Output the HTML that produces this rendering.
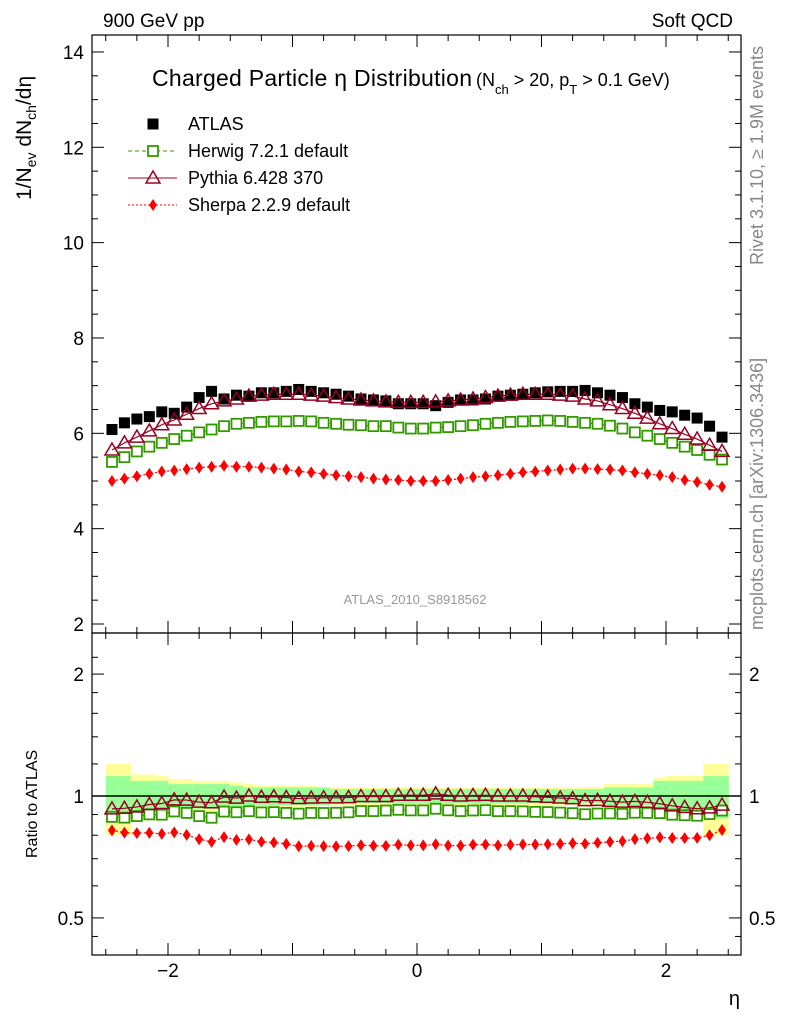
<!DOCTYPE html>
<html><head><meta charset="utf-8"><style>
body{margin:0;background:#fff;width:786px;height:1024px;overflow:hidden}
svg{font-family:"Liberation Sans",sans-serif}
</style></head><body>
<svg id="c" width="786" height="1024" viewBox="0 0 786 1024">
<text x="103" y="27" font-size="19">900 GeV pp</text>
<text x="733" y="27" font-size="19" text-anchor="end">Soft QCD</text>
<text x="152" y="86" font-size="23" textLength="320">Charged Particle η Distribution</text>
<text x="476" y="86" font-size="18">(N<tspan font-size="13" dy="8">ch</tspan><tspan dy="-8"> &gt; 20, p</tspan><tspan font-size="13" dy="8">T</tspan><tspan dy="-8"> &gt; 0.1 GeV)</tspan></text>
<text x="415" y="604" font-size="13" fill="#999" text-anchor="middle">ATLAS_2010_S8918562</text>
<text transform="translate(763,265) rotate(-90)" font-size="18" fill="#888">Rivet 3.1.10, ≥ 1.9M events</text>
<text transform="translate(763,630) rotate(-90)" font-size="18" fill="#888">mcplots.cern.ch [arXiv:1306.3436]</text>
<text transform="translate(31,200) rotate(-90)" font-size="21">1/N<tspan font-size="14" dy="5">ev</tspan><tspan dy="-5"> dN</tspan><tspan font-size="14" dy="5">ch</tspan><tspan dy="-5">/dη</tspan></text>
<text transform="translate(37,858) rotate(-90)" font-size="16">Ratio to ATLAS</text>
<text x="740" y="1005" font-size="20" text-anchor="end">η</text>
<g id="g"></g>
</svg>
<script>
const etaCenters=[];for(let i=0;i<50;i++)etaCenters.push(+(-2.45+0.1*i).toFixed(2));
const atlas=[6.08,6.22,6.30,6.35,6.45,6.42,6.55,6.75,6.88,6.72,6.80,6.78,6.85,6.85,6.88,6.92,6.88,6.85,6.82,6.78,6.72,6.70,6.68,6.62,6.62,
6.62,6.58,6.65,6.70,6.70,6.72,6.78,6.80,6.82,6.85,6.87,6.88,6.88,6.90,6.85,6.80,6.75,6.62,6.55,6.48,6.45,6.38,6.32,6.15,5.92];
const herwig=[5.40,5.50,5.62,5.72,5.80,5.88,5.95,6.02,6.08,6.15,6.20,6.22,6.24,6.25,6.25,6.26,6.25,6.22,6.20,6.18,6.17,6.15,6.15,6.12,6.10,
6.10,6.12,6.13,6.15,6.17,6.20,6.22,6.24,6.25,6.26,6.27,6.26,6.24,6.22,6.20,6.16,6.10,6.02,5.95,5.88,5.80,5.72,5.65,5.55,5.45];
const pythia=[5.65,5.80,5.92,6.05,6.18,6.28,6.40,6.52,6.62,6.68,6.72,6.78,6.80,6.82,6.82,6.82,6.80,6.78,6.75,6.72,6.70,6.68,6.66,6.65,6.65,
6.65,6.66,6.68,6.70,6.72,6.75,6.78,6.80,6.82,6.82,6.82,6.80,6.78,6.72,6.68,6.60,6.52,6.42,6.32,6.20,6.10,5.98,5.88,5.75,5.62];
const sherpa=[5.00,5.05,5.10,5.15,5.20,5.22,5.25,5.28,5.30,5.32,5.30,5.30,5.28,5.26,5.24,5.20,5.18,5.15,5.12,5.10,5.08,5.05,5.03,5.02,5.00,
5.00,5.00,5.02,5.05,5.08,5.10,5.12,5.15,5.18,5.20,5.22,5.24,5.26,5.26,5.25,5.24,5.22,5.18,5.15,5.12,5.08,5.02,4.98,4.92,4.88];
const bandInner=[0.12,0.12,0.09,0.09,0.09,0.07,0.07,0.07,0.07,0.07,0.06,0.05,0.05,0.05,0.05,0.05,0.05,0.05,0.04,0.04,0.04,0.04,0.04,0.04,0.04,
0.04,0.04,0.04,0.04,0.04,0.04,0.04,0.04,0.04,0.04,0.04,0.04,0.04,0.04,0.04,0.05,0.05,0.05,0.05,0.09,0.09,0.09,0.09,0.12,0.12];
const bandOuter=[0.20,0.20,0.13,0.13,0.12,0.10,0.10,0.09,0.09,0.09,0.08,0.07,0.06,0.06,0.06,0.06,0.06,0.05,0.05,0.05,0.05,0.05,0.05,0.05,0.05,
0.05,0.05,0.05,0.05,0.05,0.05,0.05,0.05,0.05,0.05,0.05,0.05,0.05,0.05,0.05,0.07,0.07,0.07,0.07,0.11,0.12,0.12,0.12,0.20,0.20];
const yTicks=[2,4,6,8,10,12,14];
const xTicks=[-2,0,2];
const rTicks=[0.5,1,2];

const NS="http://www.w3.org/2000/svg";
const g=document.getElementById('g');
const X0=92,X1=741,T=35,M=633,B=955;
const xs=e=>417+124.5*e;
const ys=v=>624-(v-2)*47.67;
const yr=r=>796-405*Math.log10(r);
function el(t,a,p){const e=document.createElementNS(NS,t);for(const k in a)e.setAttribute(k,a[k]);(p||g).appendChild(e);return e;}

for(let i=0;i<50;i++){
  const xa=xs(etaCenters[i]-0.05),xb=xs(etaCenters[i]+0.05);
  const o=el('rect',{x:xa,y:yr(1+bandOuter[i]),width:xb-xa+0.5,height:yr(1-bandOuter[i])-yr(1+bandOuter[i]),fill:'#ffff99'});
  
  
  const n=el('rect',{x:xa,y:yr(1+bandInner[i]),width:xb-xa+0.5,height:yr(1-bandInner[i])-yr(1+bandInner[i]),fill:'#99ff99'});
  
  
}
el('line',{x1:X0,x2:X1,y1:yr(1),y2:yr(1),stroke:'#000','stroke-width':1.5});

el('rect',{x:X0,y:T,width:X1-X0,height:M-T,fill:'none',stroke:'#000','stroke-width':1.2});
el('rect',{x:X0,y:M,width:X1-X0,height:B-M,fill:'none',stroke:'#000','stroke-width':1.2});

for(let v=2;v<=14.3;v+=0.5){const maj=Math.abs(v-Math.round(v/2)*2)<1e-6;const L=maj?12:6;
 el('line',{x1:X0,x2:X0+L,y1:ys(v),y2:ys(v),stroke:'#000'});el('line',{x1:X1,x2:X1-L,y1:ys(v),y2:ys(v),stroke:'#000'});}
yTicks.forEach(v=>{const t=el('text',{x:X0-8,y:ys(v)+7,'font-size':19,'text-anchor':'end'});t.textContent=v;
 
 });
[0.45,0.5,0.6,0.7,0.8,0.9,1,1.2,1.4,1.6,1.8,2,2.2].forEach(r=>{const maj=rTicks.includes(r);const L=maj?12:6;
 el('line',{x1:X0,x2:X0+L,y1:yr(r),y2:yr(r),stroke:'#000'});el('line',{x1:X1,x2:X1-L,y1:yr(r),y2:yr(r),stroke:'#000'});});
rTicks.forEach(r=>{const t=el('text',{x:X0-8,y:yr(r)+7,'font-size':19,'text-anchor':'end'});t.textContent=r;
 
 
 const t2=el('text',{x:X1+8,y:yr(r)+7,'font-size':19});t2.textContent=r;
 
 });
for(let e=-2.5;e<=2.51;e+=0.25){const maj=Math.abs(e-Math.round(e))<1e-6;const L=maj?12:6;
 [[T,1],[M,-1],[M,1],[B,-1]].forEach(([y,d])=>el('line',{x1:xs(e),x2:xs(e),y1:y,y2:y+d*L,stroke:'#000'}));}
xTicks.forEach(e=>{const t=el('text',{x:xs(e),y:977,'font-size':19,'text-anchor':'middle'});t.textContent=(e<0?'−':'')+Math.abs(e);
 
 });

function line(vals,f,col,dash,w){let d='';vals.forEach((v,i)=>{d+=(i?'L':'M')+xs(etaCenters[i])+','+f(v,i);});
 const p=el('path',{d:d,fill:'none',stroke:col,'stroke-width':w||1.2});if(dash)p.setAttribute('stroke-dasharray',dash);return p;}
function sq(x,y,s,col,fill){return el('rect',{x:x-s/2,y:y-s/2,width:s,height:s,fill:fill?col:'#fff',stroke:col,'stroke-width':fill?0:1.8});}
function tri(x,y,col){return el('path',{d:`M${x},${y-7}L${x+7},${y+5}L${x-7},${y+5}Z`,fill:'none',stroke:col,'stroke-width':1.5});}
function dia(x,y,col){return el('path',{d:`M${x},${y-6}L${x+4},${y}L${x},${y+6}L${x-4},${y}Z`,fill:col});}

const HC='#339900',PC='#990022',SC='#ff0000';
const rat=arr=>arr.map((v,i)=>v/atlas[i]);
line(herwig,v=>ys(v),HC,'4,3');line(pythia,v=>ys(v),PC);line(sherpa,v=>ys(v),SC,'2,2');
atlas.forEach((v,i)=>{const m=sq(xs(etaCenters[i]),ys(v),11,'#000',true);});
herwig.forEach((v,i)=>{const m=sq(xs(etaCenters[i]),ys(v),10,HC,false);});
pythia.forEach((v,i)=>{const m=tri(xs(etaCenters[i]),ys(v),PC);});
sherpa.forEach((v,i)=>{const m=dia(xs(etaCenters[i]),ys(v),SC);});
const rh=rat(herwig),rp=rat(pythia),rs=rat(sherpa);
line(rh,v=>yr(v),HC,'4,3');line(rp,v=>yr(v),PC);line(rs,v=>yr(v),SC,'2,2');
rh.forEach((v,i)=>{const m=sq(xs(etaCenters[i]),yr(v),10,HC,false);});
rp.forEach((v,i)=>{const m=tri(xs(etaCenters[i]),yr(v),PC);});
rs.forEach((v,i)=>{const m=dia(xs(etaCenters[i]),yr(v),SC);});

const lg=[['ATLAS','#000','a'],['Herwig 7.2.1 default',HC,'h'],['Pythia 6.428 370',PC,'p'],['Sherpa 2.2.9 default',SC,'s']];
lg.forEach((l,i)=>{const y=124+27*i,cx=153;
 if(l[2]=='a')sq(cx,y,11,'#000',true);
 if(l[2]=='h'){el('line',{x1:128,x2:177,y1:y,y2:y,stroke:HC,'stroke-dasharray':'4,3'});sq(cx,y,10,HC,false);}
 if(l[2]=='p'){el('line',{x1:128,x2:177,y1:y,y2:y,stroke:PC});tri(cx,y,PC);}
 if(l[2]=='s'){el('line',{x1:128,x2:177,y1:y,y2:y,stroke:SC,'stroke-dasharray':'2,2'});dia(cx,y,SC);}
 const t=el('text',{x:188,y:y+6,'font-size':18});t.textContent=l[0];
 
 });
</script>
</body></html>
